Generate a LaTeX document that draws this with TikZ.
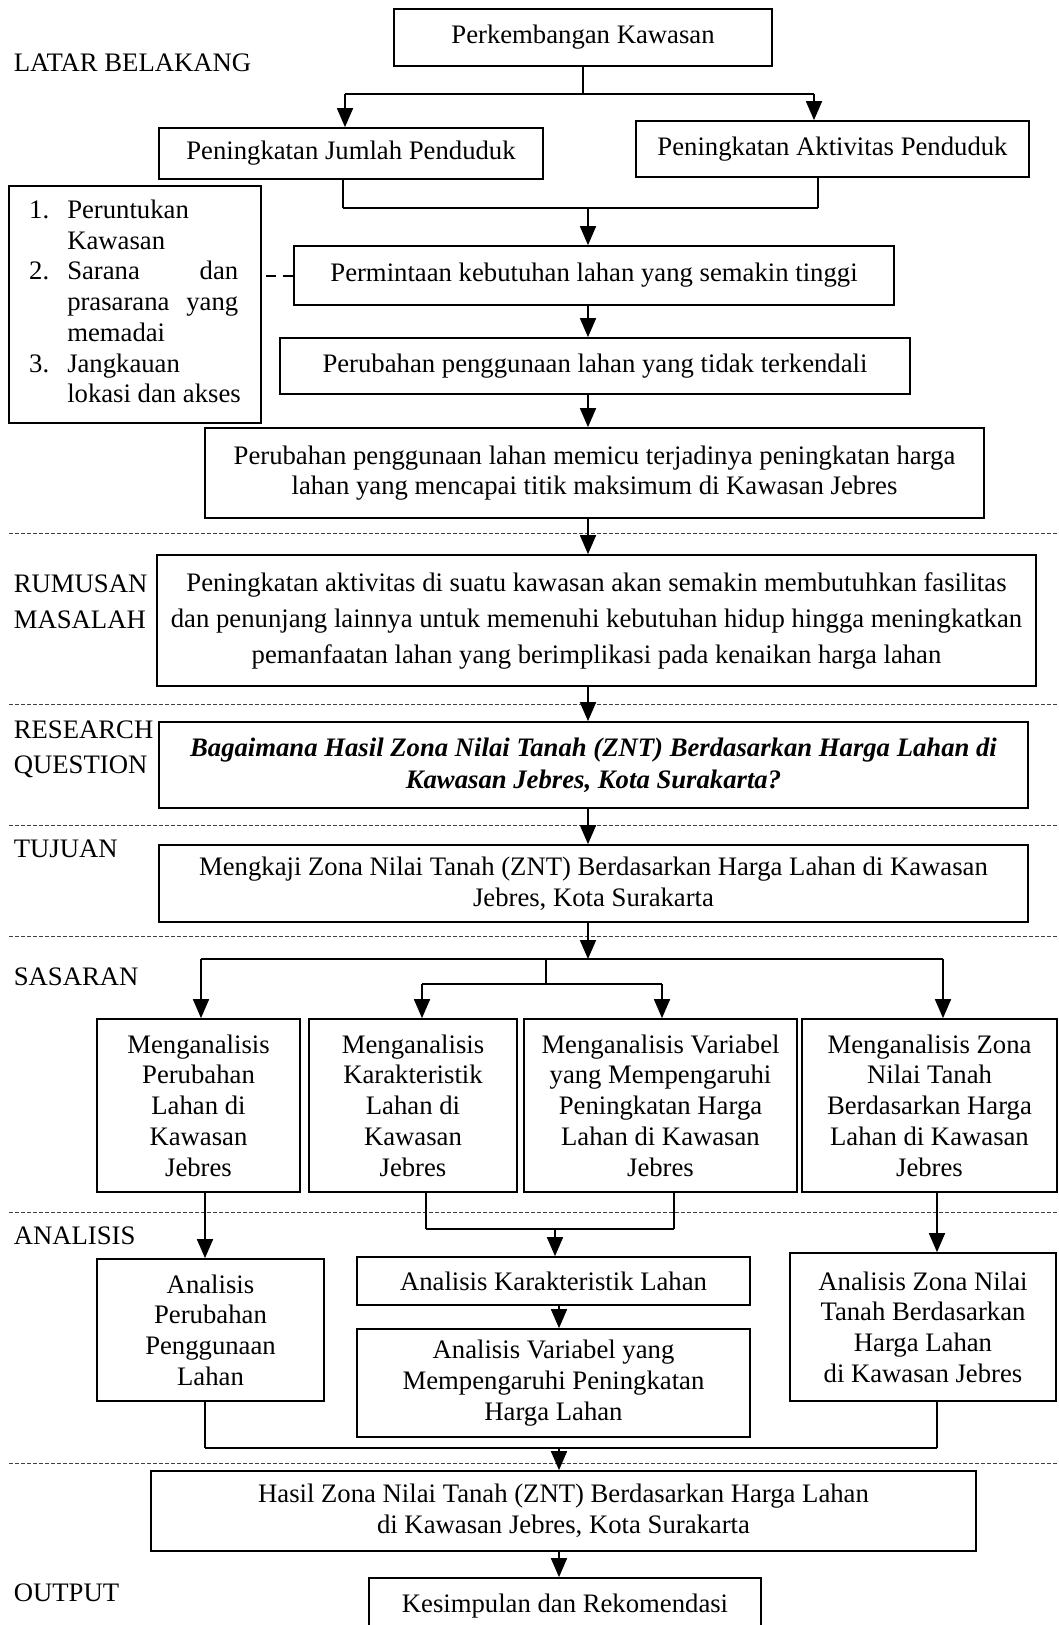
\documentclass[tikz,border=0pt]{standalone}
\usepackage{fontspec}
\setmainfont{Liberation Serif}
\usetikzlibrary{arrows.meta,positioning,calc}

\tikzset{
  box/.style={draw,line width=1.7pt,align=center,inner sep=0pt},
  sep/.style={dash pattern=on 4pt off 2pt,line width=.7pt,black!75},
  bar/.style={line width=2.6pt},
  lbl/.style={anchor=west,align=left,inner sep=0pt},
}

\begin{document}
\begin{tikzpicture}[x=1pt,y=-1pt,>={Triangle[length=19pt,width=16pt]},line width=1.7pt,
  font=\fontsize{26.7}{30.7}\selectfont]
\useasboundingbox (0,0) rectangle (1059,1625);
\foreach \y in {533,704,825,936,1212,1463}
  \draw[sep] (9,\y) -- (1059,\y);

% labels on the left
\node[lbl] (latar) at (13,63) {LATAR BELAKANG};
\node[lbl,font=\fontsize{26.7}{36}\selectfont] (rumlbl) at (13,602) {RUMUSAN\\MASALAH};
\node[lbl,font=\fontsize{26.7}{35}\selectfont] (rqlbl) at (13,749) {RESEARCH\\QUESTION};
\node[lbl] (tujlbl) at (13,849) {TUJUAN};
\node[lbl] (saslbl) at (13,977) {SASARAN};
\node[lbl] (analbl) at (13,1236) {ANALISIS};
\node[lbl] (outlbl) at (13,1593) {OUTPUT};

% latar belakang
\node[box,minimum width=378,minimum height=57] (perk) at (583,37.5) {Perkembangan Kawasan};
\node[box,minimum width=384,minimum height=51] (jumlah) at (351,153.5) {Peningkatan Jumlah Penduduk};
\node[box,minimum width=393,minimum height=56] (aktiv) at (832.5,149) {Peningkatan Aktivitas Penduduk};
\node[box,minimum width=252,minimum height=237,align=left] (list) at (135,304.5) {%
  \begin{tabular}{@{}l@{\hspace{18pt}}l@{}}
  1. & Peruntukan\\
     & Kawasan\\
  2. & \makebox[171pt][s]{Sarana dan}\\
     & \makebox[171pt][s]{prasarana yang}\\
     & memadai\\
  3. & Jangkauan\\
     & lokasi dan akses
  \end{tabular}};
\node[box,minimum width=600,minimum height=59] (minta) at (594,275.5) {Permintaan kebutuhan lahan yang semakin tinggi};
\node[box,minimum width=630,minimum height=56] (ubah) at (595,366) {Perubahan penggunaan lahan yang tidak terkendali};
\node[box,minimum width=779,minimum height=90] (picu) at (594.5,473) {Perubahan penggunaan lahan memicu terjadinya peningkatan harga\\lahan yang mencapai titik maksimum di Kawasan Jebres};

% rumusan masalah, research question, tujuan
\node[box,minimum width=879,minimum height=131,font=\fontsize{26.7}{36}\selectfont] (rumus) at (596.5,620.5) {Peningkatan aktivitas di suatu kawasan akan semakin membutuhkan fasilitas\\dan penunjang lainnya untuk memenuhi kebutuhan hidup hingga meningkatkan\\pemanfaatan lahan yang berimplikasi pada kenaikan harga lahan};
\node[box,minimum width=869,minimum height=86,font=\fontsize{26.7}{32}\selectfont\bfseries\itshape] (rq) at (593.5,765) {Bagaimana Hasil Zona Nilai Tanah (ZNT) Berdasarkan Harga Lahan di\\Kawasan Jebres, Kota Surakarta?};
\node[box,minimum width=869,minimum height=77] (tujuan) at (593.5,883.5) {Mengkaji Zona Nilai Tanah (ZNT) Berdasarkan Harga Lahan di Kawasan\\Jebres, Kota Surakarta};

% sasaran
\node[box,minimum width=203,minimum height=173] (s1) at (198.5,1105.5) {Menganalisis\\Perubahan\\Lahan di\\Kawasan\\Jebres};
\node[box,minimum width=208,minimum height=173] (s2) at (413,1105.5) {Menganalisis\\Karakteristik\\Lahan di\\Kawasan\\Jebres};
\node[box,minimum width=273,minimum height=173] (s3) at (660.5,1105.5) {Menganalisis Variabel\\yang Mempengaruhi\\Peningkatan Harga\\Lahan di Kawasan\\Jebres};
\node[box,minimum width=255,minimum height=173] (s4) at (929.5,1105.5) {Menganalisis Zona\\Nilai Tanah\\Berdasarkan Harga\\Lahan di Kawasan\\Jebres};

% analisis
\node[box,minimum width=227,minimum height=142] (a1) at (210.5,1330) {Analisis\\Perubahan\\Penggunaan\\Lahan};
\node[box,minimum width=393,minimum height=48] (a2) at (553.5,1281) {Analisis Karakteristik Lahan};
\node[box,minimum width=393,minimum height=108] (a3) at (553.5,1383) {Analisis Variabel yang\\Mempengaruhi Peningkatan\\Harga Lahan};
\node[box,minimum width=266,minimum height=148] (a4) at (923,1327) {Analisis Zona Nilai\\Tanah Berdasarkan\\Harga Lahan\\di Kawasan Jebres};

% output
\node[box,minimum width=825,minimum height=80] (hasil) at (563.5,1511) {Hasil Zona Nilai Tanah (ZNT) Berdasarkan Harga Lahan\\di Kawasan Jebres, Kota Surakarta};
\node[box,minimum width=392,minimum height=56] (kesim) at (565,1606) {Kesimpulan dan Rekomendasi};

% junctions
\coordinate (b1a) at (345,94);
\coordinate (b1b) at (814,94);
\coordinate (b2a) at (343,208);
\coordinate (b2b) at (818,208);
\coordinate (b2m) at (588,208);
\coordinate (b3a) at (201,959);
\coordinate (b3b) at (943,959);
\coordinate (b3m) at (546,959);
\coordinate (b4a) at (422,984);
\coordinate (b4b) at (662,984);
\coordinate (m1) at (426,1229);
\coordinate (m2) at (674,1229);
\coordinate (m3) at (555,1229);
\coordinate (k1) at (205,1448);
\coordinate (k2) at (937,1448);
\coordinate (k3) at (559,1448);

\draw (perk.south) -- (perk.south |- b1a);
\draw[bar] (b1a) -- (b1b);
\draw[->] (b1a) -- (b1a |- jumlah.north);
\draw[->] (b1b) -- (b1b |- aktiv.north);
\draw (b2a |- jumlah.south) -- (b2a);
\draw (b2b |- aktiv.south) -- (b2b);
\draw[bar] (b2a) -- (b2b);
\draw[->] (b2m) -- (b2m |- minta.north);
\draw[line width=2pt,dash pattern=on 10pt off 7pt] (minta.west) -- (list.east |- minta.west);
\draw[->] (minta.south -| b2m) -- (ubah.north -| b2m);
\draw[->] (ubah.south -| b2m) -- (picu.north -| b2m);
\draw[->] (picu.south -| b2m) -- (rumus.north -| b2m);
\draw[->] (rumus.south -| b2m) -- (rq.north -| b2m);
\draw[->] (rq.south -| b2m) -- (tujuan.north -| b2m);
\draw[->] (tujuan.south -| b2m) -- (b2m |- b3a);
\draw[bar] (b3a) -- (b3b);
\draw[->] (b3a) -- (b3a |- s1.north);
\draw[->] (b3b) -- (b3b |- s4.north);
\draw (b3m) -- (b3m |- b4a);
\draw[bar] (b4a) -- (b4b);
\draw[->] (b4a) -- (b4a |- s2.north);
\draw[->] (b4b) -- (b4b |- s3.north);
\draw[->] (s1.south -| k1) -- (a1.north -| k1);
\draw (s2.south -| m1) -- (m1);
\draw (s3.south -| m2) -- (m2);
\draw[bar] (m1) -- (m2);
\draw[->] (m3) -- (a2.north -| m3);
\draw[->] (a2.south -| k3) -- (a3.north -| k3);
\draw[->] (s4.south -| k2) -- (a4.north -| k2);
\draw (a1.south -| k1) -- (k1);
\draw (a4.south -| k2) -- (k2);
\draw[bar] (k1) -- (k2);
\draw[->] (k3) -- (hasil.north -| k3);
\draw[->] (hasil.south -| k3) -- (kesim.north -| k3);
\end{tikzpicture}
\end{document}
